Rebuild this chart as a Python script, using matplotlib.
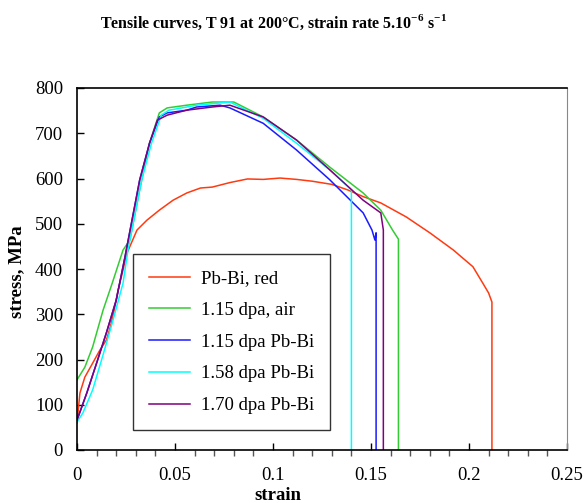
import numpy as np
import matplotlib
matplotlib.use('Agg')
import matplotlib.pyplot as plt
from matplotlib.ticker import MultipleLocator, FuncFormatter

plt.rcParams['font.family'] = ['Liberation Serif', 'DejaVu Serif']
plt.rcParams['mathtext.fontset'] = 'custom'
plt.rcParams['mathtext.rm'] = 'Liberation Serif'
plt.rcParams['mathtext.bf'] = 'Liberation Serif:bold'

red_strain = [0.0, 0.0015, 0.004, 0.008, 0.0117, 0.015, 0.017, 0.019, 0.021, 0.0235,
              0.0255, 0.0306, 0.0357, 0.042, 0.049, 0.056, 0.063, 0.069, 0.078, 0.087,
              0.095, 0.1036, 0.112, 0.120, 0.130, 0.138, 0.146, 0.155, 0.168, 0.180,
              0.192, 0.202, 0.207, 0.210, 0.2117, 0.2117]
red_stress = [60, 126, 161, 192, 221, 243, 272, 309, 354, 398,
              435, 486, 508, 530, 552, 568, 579, 581, 591, 599,
              598, 601, 598, 594, 587, 575, 560, 546, 515, 480,
              442, 405, 369, 347, 327, 0]

green_strain = [0.0, 0.004, 0.008, 0.0133, 0.018, 0.0235, 0.027, 0.032, 0.037, 0.042,
                0.046, 0.056, 0.069, 0.080, 0.095, 0.112, 0.129, 0.146, 0.155, 0.161,
                0.1640, 0.1640]
green_stress = [155, 183, 228, 309, 369, 442, 464, 575, 678, 745,
                756, 762, 769, 769, 736, 685, 625, 568, 530, 486,
                466, 0]

blue_strain = [0.0, 0.005, 0.010, 0.015, 0.020, 0.0245, 0.032, 0.037, 0.042, 0.046,
               0.056, 0.061, 0.073, 0.078, 0.095, 0.112, 0.129, 0.146, 0.1505, 0.152,
               0.1526, 0.1526]
blue_stress = [66, 126, 192, 259, 331, 427, 597, 678, 736, 745,
               751, 758, 762, 756, 722, 663, 597, 524, 486, 464,
               480, 0]

cyan_strain = [0.0, 0.003, 0.008, 0.013, 0.018, 0.0235, 0.026, 0.033, 0.038, 0.043,
               0.047, 0.056, 0.061, 0.078, 0.095, 0.112, 0.129, 0.1400, 0.1400]
cyan_stress = [62, 82, 133, 206, 281, 369, 442, 597, 678, 740,
               751, 758, 762, 769, 733, 678, 619, 575, 0]

purple_strain = [0.0, 0.005, 0.010, 0.015, 0.020, 0.0245, 0.032, 0.037, 0.041, 0.046,
                 0.056, 0.069, 0.078, 0.095, 0.112, 0.129, 0.146, 0.155, 0.1563, 0.1563]
purple_stress = [66, 126, 192, 259, 331, 427, 597, 678, 729, 740,
                 751, 758, 762, 736, 685, 619, 552, 524, 486, 0]

labels = ['Pb-Bi, red', '1.15 dpa, air', '1.15 dpa Pb-Bi', '1.58 dpa Pb-Bi', '1.70 dpa Pb-Bi']
colors = ['#ff3a10', '#33cc33', '#1a1aff', '#00ffff', '#800080']

fig = plt.figure(figsize=(5.84, 5.03), dpi=100)
ax = fig.add_axes([77/584, 53/503, 490/584, 362/503])

curves = [(red_strain, red_stress), (green_strain, green_stress), (blue_strain, blue_stress),
          (cyan_strain, cyan_stress), (purple_strain, purple_stress)]
for (x, y), lab, c in zip(curves, labels, colors):
    ax.plot(x, y, color=c, lw=1.1, label=lab)

ax.set_xlim(0, 0.25)
ax.set_ylim(0, 800)
ax.xaxis.set_major_locator(MultipleLocator(0.05))
ax.xaxis.set_minor_locator(MultipleLocator(0.01))
ax.yaxis.set_major_locator(MultipleLocator(100))
ax.xaxis.set_major_formatter(FuncFormatter(lambda v, p: '%g' % round(v, 3)))
ax.tick_params(axis='both', direction='in', labelsize=13.5, width=1, color='black')
ax.tick_params(axis='x', which='major', length=5, pad=12)
ax.tick_params(axis='x', which='minor', length=4, width=1, color='#555555')
ax.tick_params(axis='y', which='major', length=5, pad=10)
ax.spines['right'].set_color('#888888')
for s in ['left', 'bottom', 'top']:
    ax.spines[s].set_linewidth(1.2)

ax.set_xlabel('strain', fontsize=13.5, fontweight='bold')
ax.xaxis.set_label_coords((278 - 77) / 490, -(487 - 450) / 362)
ax.set_ylabel('stress, MPa', fontsize=13.5, fontweight='bold')
ax.yaxis.set_label_coords(-(77 - 25) / 490, (450 - 272) / 362)

leg = ax.legend(loc='lower left', bbox_to_anchor=(0.114, 0.055), fontsize=13.5,
                frameon=True, fancybox=False, borderaxespad=0, handlelength=2.2,
                labelspacing=0.78, borderpad=0.85, handletextpad=0.6)
leg.get_frame().set_edgecolor('black')
leg.get_frame().set_linewidth(1)

fig.text(274/584, 1 - 22/503,
         r'Tensile curves, T 91 at 200°C, strain rate 5.10$^{\mathbf{-6}}$ s$^{\mathbf{-1}}$',
         ha='center', va='center', fontsize=11.5, fontweight='bold')

fig.savefig('out.png', dpi=100)
